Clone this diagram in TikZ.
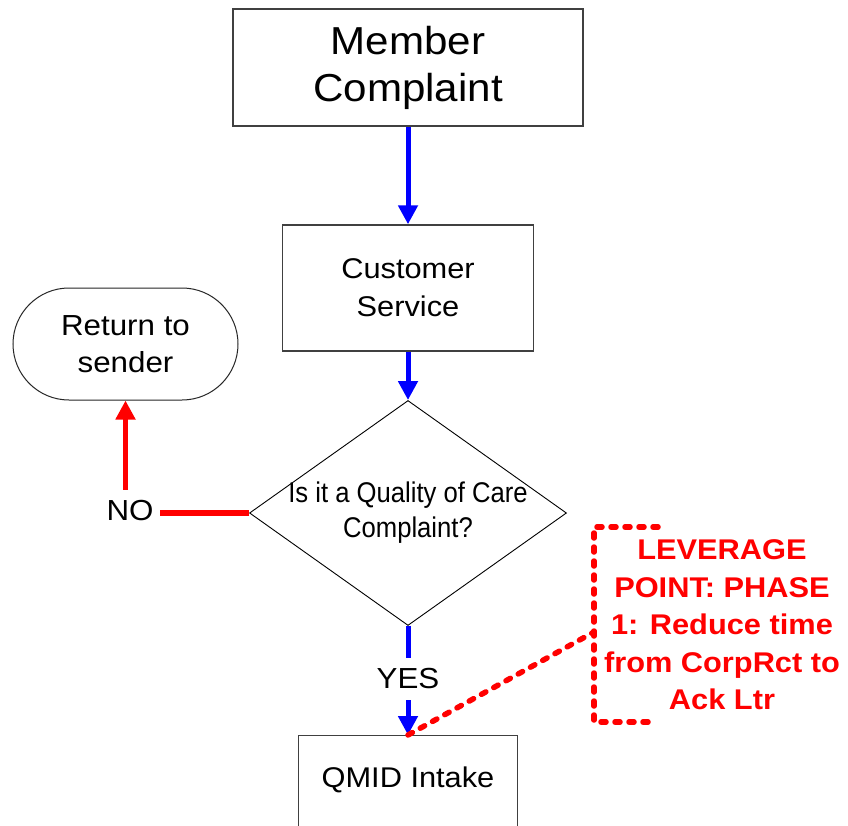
\documentclass[tikz,border=0pt]{standalone}
\usepackage{fontspec}
\setmainfont{Liberation Sans}[FakeStretch=1.08]
\newfontfamily\qfont{Liberation Sans}[FakeStretch=0.9]
\usetikzlibrary{arrows.meta,shapes.geometric}
\begin{document}
\begin{tikzpicture}[x=1pt,y=-1pt,
  box/.style={draw=black!75, line width=1.4pt, fill=white, inner sep=0pt, align=center},
  bluearrow/.style={draw=blue, line width=5pt, -{Triangle[width=19pt,length=19pt]}},
  redarrow/.style={draw=red, line width=5.5pt, -{Triangle[width=19pt,length=19pt]}},
  blueline/.style={draw=blue, line width=5pt},
  redline/.style={draw=red, line width=5.5pt},
  reddots/.style={draw=red, line width=5.5pt, line cap=round, dash pattern=on 5pt off 9pt},
  lbl/.style={inner xsep=6pt, inner ysep=11pt, font=\fontsize{29}{34}\selectfont}
]
\clip (0,0) rectangle (848,826);
\fill[white] (0,0) rectangle (848,826);

\node[box, minimum width=350pt, minimum height=117pt, font=\fontsize{39}{47}\selectfont] (member) at (408,67.5) {Member\\Complaint};
\node[box, minimum width=251pt, minimum height=126pt, font=\fontsize{28.5}{38}\selectfont] (cust) at (408,288) {Customer\\Service};
\node[draw=black!85, line width=1pt, fill=white, rounded corners=56pt, minimum width=225pt, minimum height=112pt, inner sep=0pt, align=center, font=\fontsize{29}{37}\selectfont] (ret) at (125.5,344) {Return to\\sender};
\node[diamond, draw=black, line width=0.9pt, minimum width=317pt, minimum height=225pt, inner sep=0pt] (q) at (408,513) {};
\node[align=center, font=\qfont\fontsize{28.5}{35}\selectfont] (qtext) at (408,513) {Is it a Quality of Care\\Complaint?};
\node[box, minimum width=219pt, minimum height=120pt, anchor=north] (qmid) at (408,735) {};
\node[font=\fontsize{28.5}{34}\selectfont] (qmidtext) at (408,780) {QMID Intake};
\node[lbl] (no) at (130,511) {NO};
\node[lbl] (yes) at (408,679) {YES};
\node[align=center, text=red, font=\bfseries\fontsize{28.5}{37.5}\selectfont] (lev) at (722,625) {LEVERAGE\\POINT: PHASE\\1: Reduce time\\from CorpRct to\\Ack Ltr};

\draw[bluearrow] (member.south) -- (cust.north);
\draw[bluearrow] (cust.south) -- (q.north);
\draw[redline] (q.west) -- (q.west -| no.east);
\draw[redarrow] (no.north -| ret.south) -- (ret.south);
\draw[blueline] (q.south) -- (yes.north);
\draw[bluearrow] (yes.south) -- (qmid.north);

\coordinate (bt) at (658,527);
\coordinate (bl1) at (594,527);
\coordinate (bl2) at (594,722);
\coordinate (bb) at (650,722);
\coordinate (bm) at (594,632);
\draw[reddots] (bt) -- (bl1) -- (bl2) -- (bb);
\draw[reddots] (qmid.north) -- (bm);
\end{tikzpicture}
\end{document}
